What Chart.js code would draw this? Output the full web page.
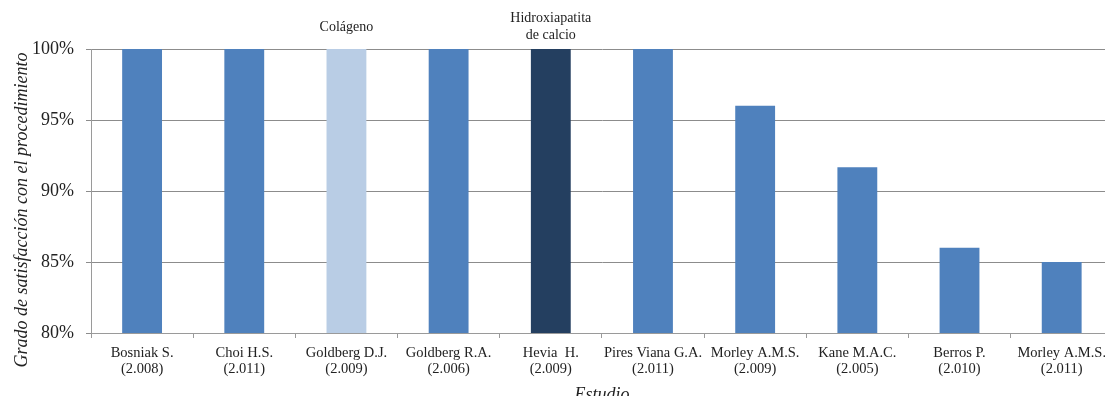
<!DOCTYPE html>
<html>
<head>
<meta charset="utf-8">
<script src="https://cdn.jsdelivr.net/npm/chart.js@4.4.1/dist/chart.umd.min.js"></script>
<style>
  html, body { margin: 0; padding: 0; background: #fff; overflow: hidden; }
  #wrap { position: absolute; left: 0; top: 0; width: 1113px; height: 406px; }
</style>
</head>
<body>
<div id="wrap"><canvas id="c" width="1113" height="406"></canvas></div>
<script>
// Studies and publication years shown on the category axis
const studies = ['Bosniak S.', 'Choi H.S.', 'Goldberg D.J.', 'Goldberg R.A.', 'Hevia  H.',
                 'Pires Viana G.A.', 'Morley A.M.S.', 'Kane M.A.C.', 'Berros P.', 'Morley A.M.S.'];
const years = ['(2.008)', '(2.011)', '(2.009)', '(2.006)', '(2.009)',
               '(2.011)', '(2.009)', '(2.005)', '(2.010)', '(2.011)'];
// Percentage of patients satisfied with the procedure
const satisfaction = [100, 100, 100, 100, 100, 100, 96, 91.67, 86, 85];
// Filler material highlighted above specific studies
const materials = [null, null, ['Colágeno'], null, ['Hidroxiapatita', 'de calcio'], null, null, null, null, null];
const barColors = ['#4F81BD', '#4F81BD', '#B9CDE5', '#4F81BD', '#243F60',
                   '#4F81BD', '#4F81BD', '#4F81BD', '#4F81BD', '#4F81BD'];
const yTicks = [80, 85, 90, 95, 100];
const yTitle = 'Grado de satisfacción con el procedimiento';

const serif = '"Liberation Serif", "Times New Roman", serif';

// Material names above the bars, and the vertical axis title
const annotations = {
  id: 'annotations',
  afterDatasetsDraw(chart) {
    const { ctx, scales: { x, y } } = chart;
    ctx.save();
    ctx.fillStyle = '#222';
    ctx.font = '14px ' + serif;
    ctx.textAlign = 'center';
    ctx.textBaseline = 'middle';
    const top = y.getPixelForValue(100);
    materials.forEach((lines, i) => {
      if (!lines) return;
      const cx = x.getPixelForValue(i);
      if (lines.length === 1) {
        ctx.fillText(lines[0], cx, top - 22);
      } else {
        ctx.fillText(lines[0], cx, top - 30.5);
        ctx.fillText(lines[1], cx, top - 13.5);
      }
    });
    // axis title, centred a little below the middle of the plot
    ctx.font = 'italic 18px ' + serif;
    ctx.translate(22, (y.top + y.bottom) / 2 + 19);
    ctx.rotate(-Math.PI / 2);
    ctx.fillText(yTitle, 0, 0);
    ctx.restore();
  }
};

new Chart(document.getElementById('c'), {
  type: 'bar',
  data: {
    labels: studies.map((s, i) => [s, years[i]]),
    datasets: [{
      data: satisfaction,
      backgroundColor: barColors,
      categoryPercentage: 1,
      barPercentage: 0.39
    }]
  },
  plugins: [annotations],
  options: {
    responsive: false,
    animation: false,
    layout: { padding: { top: 49, left: 0, right: 0, bottom: 0 } },
    plugins: { legend: { display: false }, tooltip: { enabled: false } },
    scales: {
      x: {
        offset: true,
        grid: { display: true, drawOnChartArea: false, drawTicks: true, tickLength: 5, color: '#9a9a9a', offset: true },
        border: { display: true, color: '#9a9a9a' },
        ticks: { color: '#222', font: { family: serif, size: 14.5, lineHeight: 1.1 }, padding: 7, maxRotation: 0, autoSkip: false },
        title: { display: true, text: 'Estudio', color: '#222', font: { family: serif, size: 18, style: 'italic' }, padding: { top: 0, bottom: 0 } },
        afterFit(scale) { scale.height = 73; }
      },
      y: {
        min: 80, max: 100,
        afterBuildTicks(scale) { scale.ticks = yTicks.map(v => ({ value: v })); },
        grid: { color: '#8c8c8c', drawTicks: true, tickLength: 5 },
        border: { display: true, color: '#9a9a9a' },
        ticks: { color: '#222', font: { family: serif, size: 18 }, padding: 12, callback: v => v + '%' },
        afterFit(scale) { scale.width = 91; }
      }
    }
  }
});
</script>
</body>
</html>
